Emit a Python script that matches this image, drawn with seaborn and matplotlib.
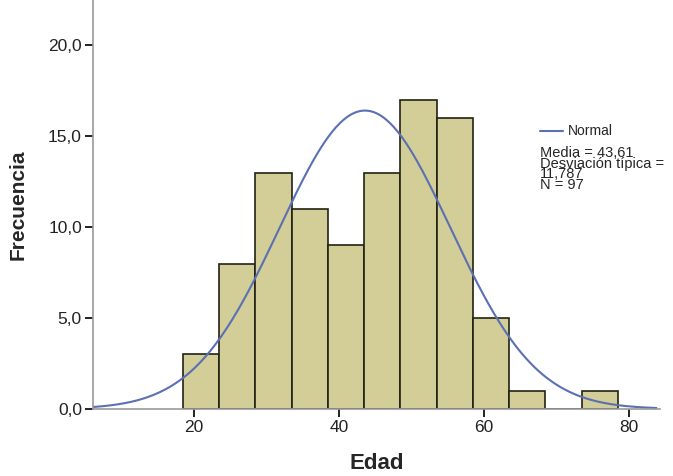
import numpy as np
import pandas as pd
import matplotlib
matplotlib.use("Agg")
import matplotlib.pyplot as plt
import seaborn as sns

# histogram of Edad (SPSS style)
bin_edges = [18.5, 23.5, 28.5, 33.5, 38.5, 43.5, 48.5, 53.5, 58.5, 63.5, 68.5, 73.5, 78.5]
counts = [3, 8, 13, 11, 9, 13, 17, 16, 5, 1, 0, 1]
media = 43.61
desv = 11.787
n = 97
y_ticks = [0, 5, 10, 15, 20]
y_tick_labels = ["0,0", "5,0", "10,0", "15,0", "20,0"]
x_ticks = [20, 40, 60, 80]

sns.set_theme(style="white")
plt.rcParams["font.family"] = ["Liberation Sans", "DejaVu Sans"]

centers = [(a + b) / 2 for a, b in zip(bin_edges[:-1], bin_edges[1:])]
df = pd.DataFrame({"Edad": centers, "n": counts})

fig = plt.figure(figsize=(6.73, 4.76), dpi=100)
ax = fig.add_axes([93 / 673, 0.141, (660 - 93) / 673, 0.859])

sns.histplot(data=df, x="Edad", weights="n", bins=bin_edges, color="#D3CE97",
             edgecolor="#222214", linewidth=1.2, alpha=1, ax=ax)

bw = bin_edges[1] - bin_edges[0]
x_lo, x_hi = 6.1, 84.3
xs = np.linspace(x_lo, x_hi - 0.5, 300)
ys = n * bw / (desv * np.sqrt(2 * np.pi)) * np.exp(-0.5 * ((xs - media) / desv) ** 2)
sns.lineplot(x=xs, y=ys, color="#5A70B3", linewidth=1.5, ax=ax)

ax.set_xlim(x_lo, x_hi)
ax.set_ylim(0, 22.5)
ax.set_yticks(y_ticks)
ax.set_yticklabels(y_tick_labels)
ax.set_xticks(x_ticks)
ax.tick_params(axis="both", direction="out", length=6, width=1.4, color="#222222",
               labelsize=12.5, labelcolor="#222222", bottom=True, left=True, pad=2)

for s in ["top", "right"]:
    ax.spines[s].set_visible(False)
for s in ["left", "bottom"]:
    ax.spines[s].set_color("#999999")
    ax.spines[s].set_linewidth(1.2)

ax.set_xlabel("Edad", fontsize=16, fontweight="bold", labelpad=13)
ax.set_ylabel("Frecuencia", fontsize=15, fontweight="bold", labelpad=15)

# legend block
fig.lines.append(plt.Line2D([540 / 673, 563 / 673], [1 - 131 / 476, 1 - 131 / 476],
                            color="#5A70B3", linewidth=1.5, transform=fig.transFigure))
fig.text(568 / 673, 1 - 131 / 476, "Normal", fontsize=10, va="center", ha="left")
stats = "Media = {}\nDesviación típica =\n{}\nN = {}".format(
    f"{media:.2f}".replace(".", ","), f"{desv:.3f}".replace(".", ","), n)
fig.text(540 / 673, 1 - 146 / 476, stats, fontsize=10.5, va="top", ha="left",
         linespacing=0.7)

fig.savefig("out.png", dpi=100)
